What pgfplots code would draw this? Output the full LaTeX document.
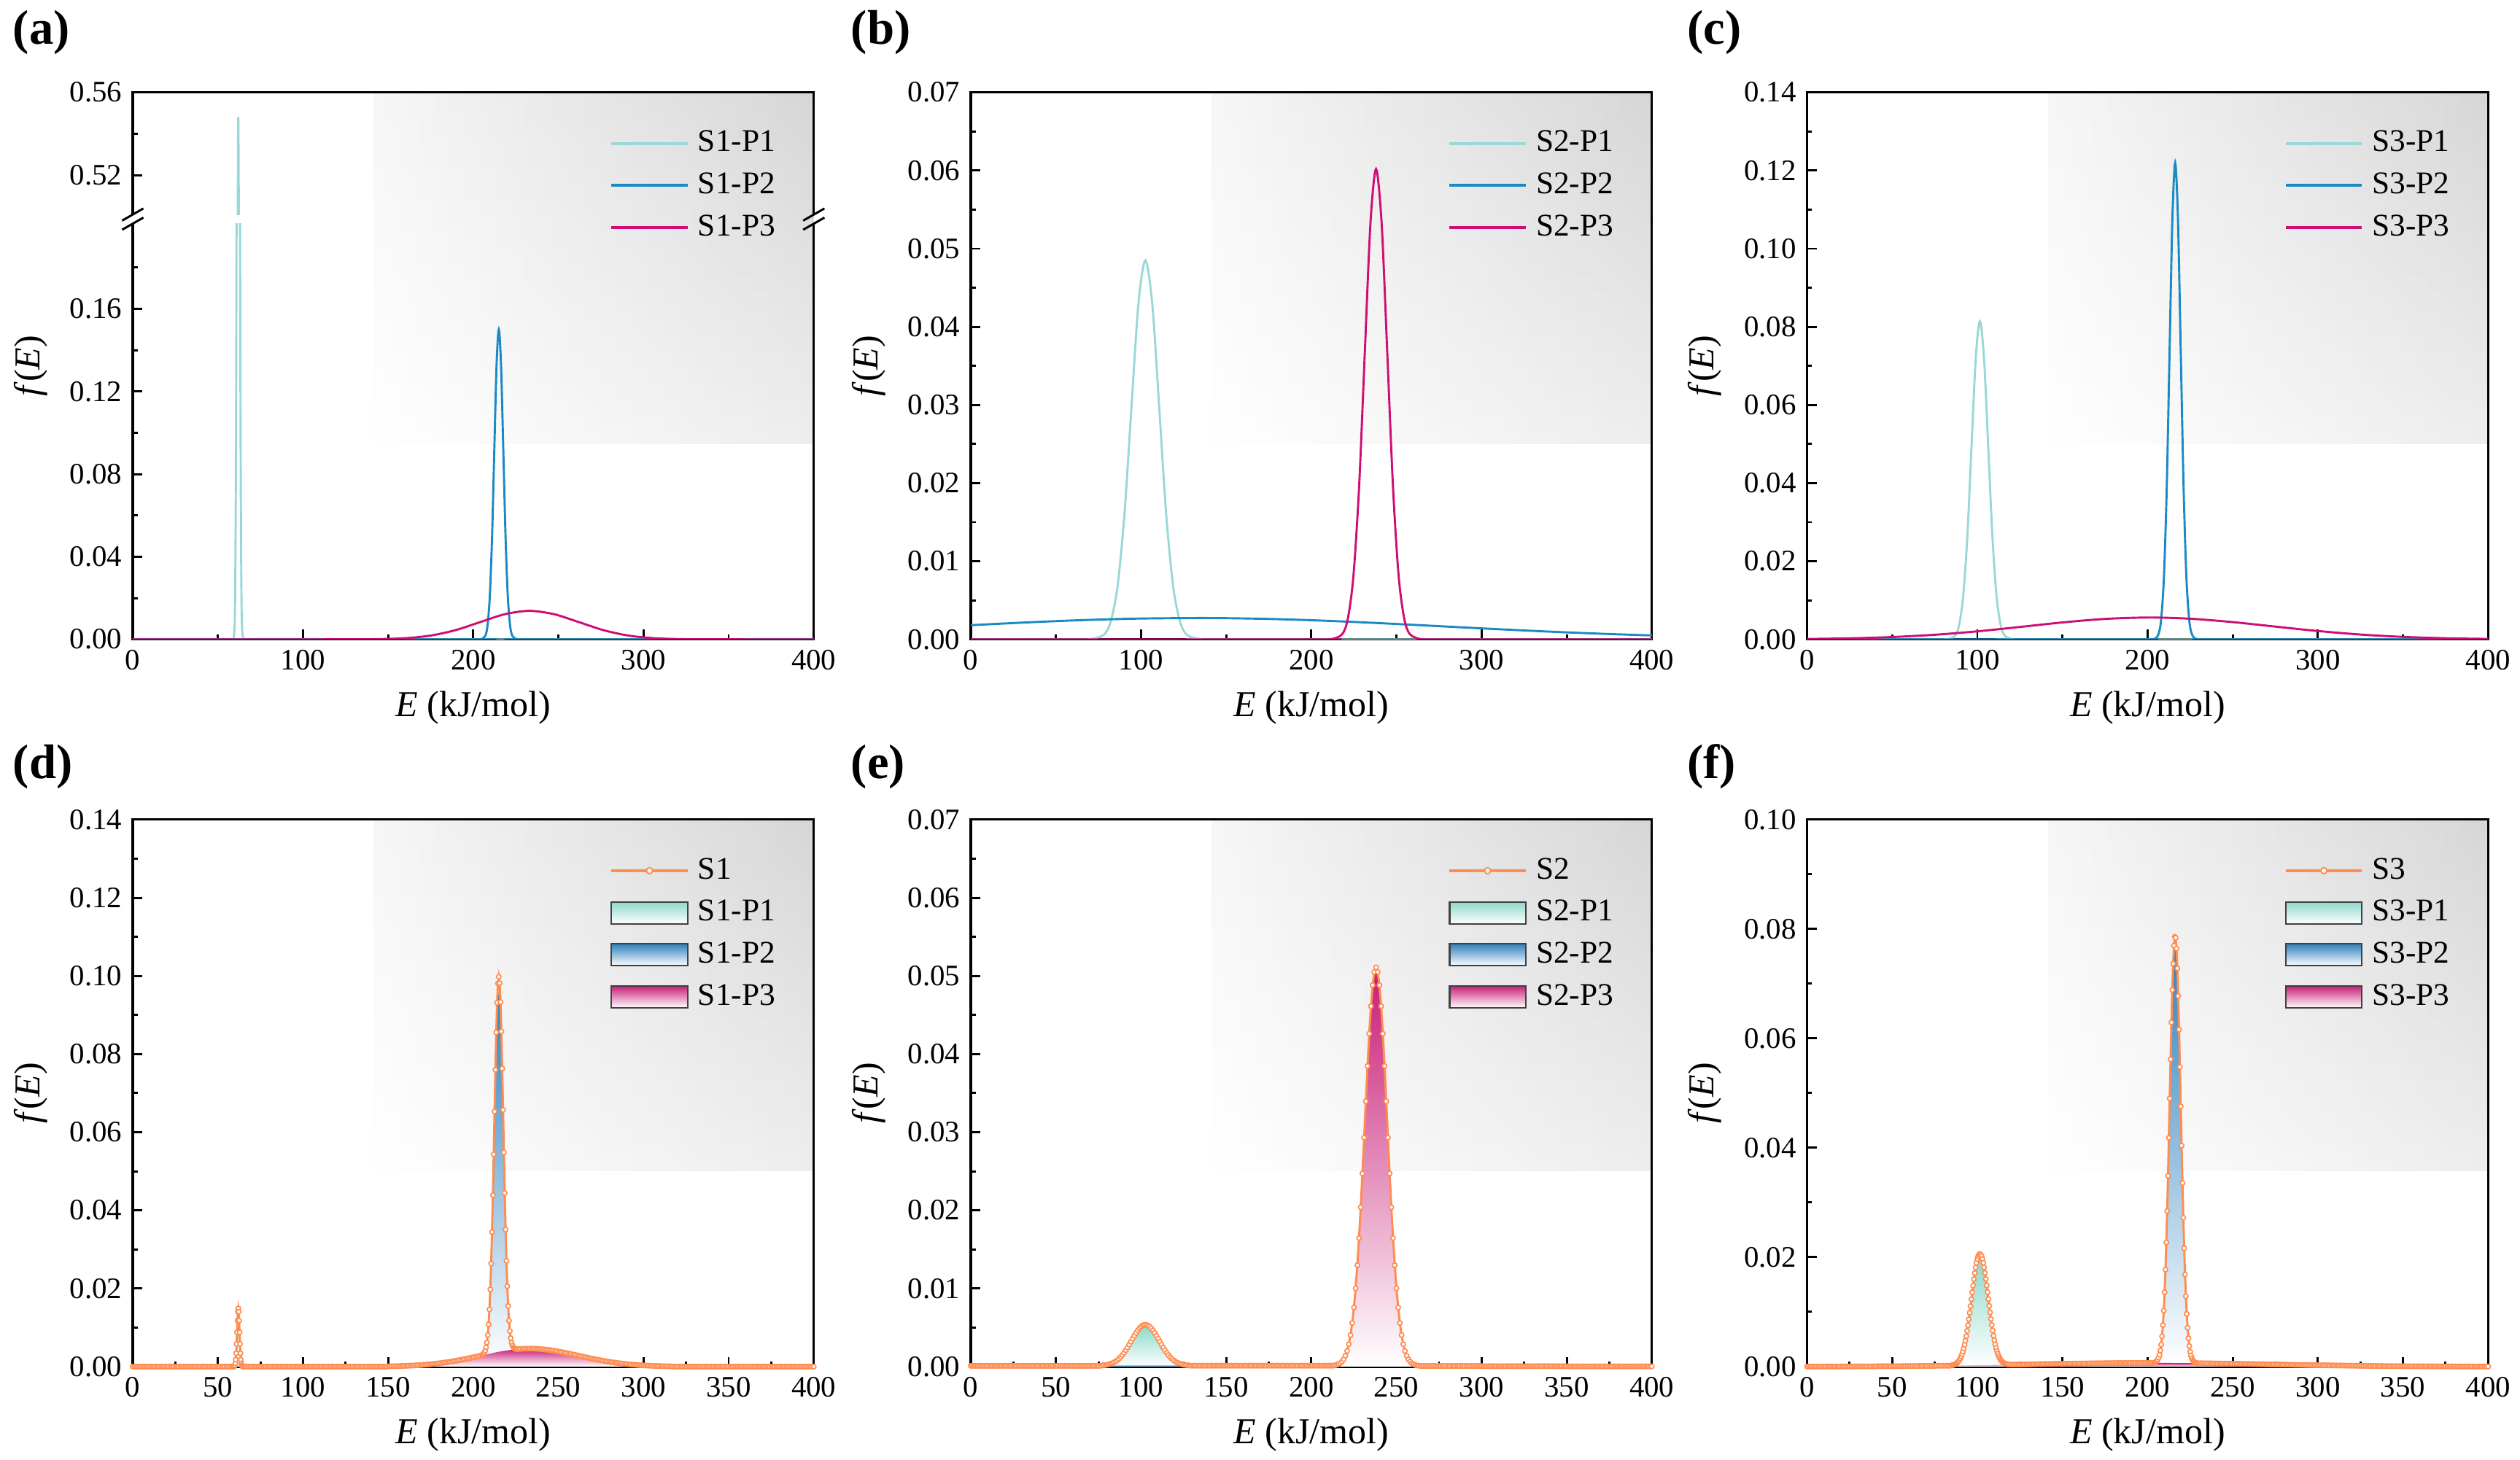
\documentclass[border=0pt]{standalone}
\usepackage{fontspec}
\setmainfont{Liberation Serif}
\usepackage{pgfplots}
\pgfplotsset{compat=1.18}
\definecolor{cPa}{RGB}{152,216,214}
\definecolor{cPb}{RGB}{26,138,196}
\definecolor{cPc}{RGB}{206,14,116}
\definecolor{cS}{RGB}{255,140,80}
\definecolor{fPa}{RGB}{140,216,204}
\definecolor{fPb}{RGB}{44,128,190}
\definecolor{fPc}{RGB}{200,28,118}
\pgfplotsset{
  panel/.style={
    scale only axis, width=224.1pt, height=180pt, anchor=south west,
    xmin=0, xmax=400, ymin=0, scaled y ticks=false, scaled x ticks=false,
    axis line style={line width=0.75pt},
    tick align=inside, xtick pos=bottom, ytick pos=left,
    major tick length=3.2pt, minor tick length=1.6pt,
    every tick/.style={black, line width=0.7pt},
    minor x tick num=1, minor y tick num=1,
    /pgf/number format/assume math mode=true,
    tick label style={font=\fontsize{9.8}{11}\selectfont},
    yticklabel style={/pgf/number format/fixed, /pgf/number format/fixed zerofill, /pgf/number format/precision=2},
    xlabel={\textit{E} (kJ/mol)}, ylabel={\textit{f}(\textit{E})},
    label style={font=\fontsize{12}{14}\selectfont},
    xlabel style={at={(axis description cs:0.5,-0.1244)}, anchor=center},
    ylabel style={at={(axis description cs:-0.150,0.5)}, anchor=center},
    legend cell align=left,
    legend style={draw=none, fill=none, inner sep=0pt, outer sep=0pt,
      at={(axis description cs:0.701,0.9411)}, anchor=north west,
      row sep=1.45pt, font=\fontsize{10.4}{12}\selectfont,
      nodes={inner sep=2pt, text depth=0.15em},
      /tikz/every odd column/.append style={column sep=1pt}},
  },
  toprow/.style={panel, xtick={0,100,200,300,400},
    legend image code/.code={\draw[##1, line width=0.9pt] (0pt,0pt) -- (25pt,0pt);}},
  botrow/.style={panel, xtick={0,50,100,150,200,250,300,350,400}},
  ln/.style={line width=0.7pt, smooth, tension=0.5},
  comp/.style={draw=none, smooth, tension=0.5, forget plot},
  Sline/.style={cS, line width=0.7pt, mark=*, mark size=0.75pt, mark options={fill=white, draw=cS, line width=0.4pt, solid}, forget plot},
}
\newcommand{\bgpanel}[2]{%
\foreach \ix in {0,...,28}{\foreach \iy in {0,...,22}{%
\pgfmathsetmacro\uu{(\ix+0.5)/29}\pgfmathsetmacro\vv{(\iy+0.5)/23}%
\pgfmathsetmacro\cc{3.5*(1-\uu)*\vv+16*\uu*\vv+7*\uu*(1-\vv)}%
\fill[black!\cc] (#1+79.3pt+\ix*4.993pt,#2+64.3pt+\iy*5.03pt) rectangle ++(5.1pt,5.13pt);}}}
\newcommand{\legS}[1]{\addlegendimage{legend image code/.code={\draw[cS, line width=0.9pt] (0pt,0pt) -- (25pt,0pt); \draw[cS, fill=white, line width=0.45pt] (12.5pt,0pt) circle (1pt);}}\addlegendentry{#1}}
\newcommand{\legF}[2]{\addlegendimage{legend image code/.code={\draw[black!75, line width=0.5pt, top color=#1, middle color=#1!40!white, bottom color=white] (0pt,-3.6pt) rectangle (25pt,3.6pt);}}\addlegendentry{#2}}
\begin{document}
\begin{tikzpicture}
\useasboundingbox (0,0) rectangle (829.2pt,480.24pt);
\bgpanel{43.68pt}{269.83pt}\bgpanel{319.44pt}{269.83pt}\bgpanel{594.6pt}{269.83pt}
\bgpanel{43.68pt}{30.5pt}\bgpanel{319.44pt}{30.5pt}\bgpanel{594.6pt}{30.5pt}
\foreach \lx/\ly/\lt in {4.08/465.6/a, 279.84/465.6/b, 555.0/465.6/c, 4.08/224.0/d, 279.84/224.0/e, 555.0/224.0/f}
  \node[anchor=base west, inner sep=0pt, font=\fontsize{16}{18}\selectfont\bfseries] at (\lx pt,\ly pt) {(\lt)};
% frame of (a) with break
\draw[line width=0.75pt] (43.68pt,406.63pt) -- (43.68pt,269.83pt) -- (267.78pt,269.83pt) -- (267.78pt,406.63pt);
\draw[line width=0.75pt] (43.68pt,409.63pt) -- (43.68pt,449.83pt) -- (267.78pt,449.83pt) -- (267.78pt,409.63pt);
\foreach \bx in {43.68,267.78}{
  \draw[line width=0.7pt] (\bx pt-3.5pt,404.63pt) -- (\bx pt+3.5pt,408.63pt);
  \draw[line width=0.7pt] (\bx pt-3.5pt,407.63pt) -- (\bx pt+3.5pt,411.63pt);}
% ---------------- (a) lower
\begin{axis}[toprow, at={(43.68pt,269.83pt)}, height=136.8pt, ymax=0.2012,
  ytick={0,0.04,0.08,0.12,0.16}, minor y tick num=0, minor ytick={0.02,0.06,0.10,0.14,0.18},
  axis line style={draw=none},
  ylabel style={at={(axis description cs:-0.150,0.6579)}},
  xlabel style={at={(axis description cs:0.5,-0.1637)}},
  legend style={at={(axis description cs:0.701,1.2383)}}]
\addplot[ln, cPa] coordinates {(0,0)(58,0)(59.09,0.0002)(59.82,0.0061)(60.18,0.0241)(60.54,0.0742)(60.91,0.1779)(61.27,0.3324)(61.64,0.4836)(62,0.548)(62.36,0.4836)(62.73,0.3324)(63.09,0.1779)(63.46,0.0742)(63.82,0.0241)(64.18,0.0061)(64.91,0.0002)(66,0)(400,0)};
\addlegendentry{S1-P1}
\addplot[ln, cPb] coordinates {(0,0)(200,0)(204.36,0.00005)(207.02,0.00167)(208.35,0.00659)(209.68,0.0203)(211.01,0.0487)(212.34,0.091)(213.67,0.1324)(215,0.15)(216.33,0.1324)(217.66,0.091)(218.99,0.0487)(220.32,0.0203)(221.65,0.00659)(222.98,0.00167)(225.64,0.00005)(230,0)(400,0)};
\addlegendentry{S1-P2}
\addplot[ln, cPc] coordinates {(0,0)(100,0)(117.4,0.000005)(131.85,0.00003)(146.3,0.000153)(160.75,0.000606)(175.2,0.00187)(189.65,0.00448)(204.1,0.00837)(218.55,0.01218)(233,0.0138)(247.45,0.01218)(261.9,0.00837)(276.35,0.00448)(290.8,0.00187)(305.25,0.000606)(319.7,0.000153)(334.15,0.00003)(348.6,0.000005)(366,0)(400,0)};
\addlegendentry{S1-P3}
\end{axis}
% ---------------- (a) upper
\begin{axis}[toprow, at={(43.68pt,409.63pt)}, height=40.2pt, ymin=0.5009, ymax=0.56,
  ytick={0.52,0.56}, minor y tick num=0, minor ytick={0.54}, xtick=\empty,
  xlabel={}, ylabel={}, axis line style={draw=none}]
\addplot[ln, cPa, forget plot] coordinates {(0,0)(58,0)(59.09,0.0002)(59.82,0.0061)(60.18,0.0241)(60.54,0.0742)(60.91,0.1779)(61.27,0.3324)(61.64,0.4836)(62,0.548)(62.36,0.4836)(62.73,0.3324)(63.09,0.1779)(63.46,0.0742)(63.82,0.0241)(64.18,0.0061)(64.91,0.0002)(66,0)(400,0)};
\end{axis}
% ---------------- (b)
\begin{axis}[toprow, at={(319.44pt,269.83pt)}, ymax=0.07, ytick={0,0.01,0.02,0.03,0.04,0.05,0.06,0.07}]
\addplot[ln, cPa] coordinates {(0,0)(60,0)(69.58,0.000016)(77.81,0.000538)(81.93,0.00213)(86.04,0.00656)(90.16,0.01575)(94.27,0.02942)(98.39,0.0428)(102.5,0.0485)(106.62,0.0428)(110.73,0.02942)(114.85,0.01575)(118.96,0.00656)(123.08,0.00213)(127.19,0.000538)(135.42,0.000016)(145,0)(400,0)};
\addlegendentry{S2-P1}
\addplot[ln, cPb] coordinates {(0,0.001814)(25,0.002087)(50,0.002332)(75,0.00253)(100,0.002665)(132,0.00273)(150,0.002709)(175,0.002614)(200,0.002449)(225,0.002229)(250,0.001969)(275,0.00169)(300,0.001408)(325,0.00114)(350,0.000895)(375,0.000683)(400,0.000506)};
\addlegendentry{S2-P2}
\addplot[ln, cPc] coordinates {(0,0)(200,0)(211.48,0.00002)(218.11,0.000668)(221.43,0.00264)(224.74,0.00815)(228.06,0.01955)(231.37,0.03651)(234.69,0.05313)(238,0.0602)(241.32,0.05313)(244.63,0.03651)(247.95,0.01955)(251.26,0.00815)(254.58,0.00264)(257.89,0.000668)(264.52,0.00002)(275,0)(400,0)};
\addlegendentry{S2-P3}
\end{axis}
% ---------------- (c)
\begin{axis}[toprow, at={(594.6pt,269.83pt)}, ymax=0.14, ytick={0,0.02,0.04,0.06,0.08,0.10,0.12,0.14}]
\addplot[ln, cPa] coordinates {(0,0)(70,0)(81.9,0.000027)(86.8,0.000904)(89.25,0.00357)(91.7,0.01101)(94.15,0.02643)(96.6,0.04937)(99.05,0.07184)(101.5,0.0814)(103.95,0.07184)(106.4,0.04937)(108.85,0.02643)(111.3,0.01101)(113.75,0.00357)(116.2,0.000904)(121.1,0.000027)(130,0)(400,0)};
\addlegendentry{S3-P1}
\addplot[ln, cPb] coordinates {(0,0)(190,0)(203.12,0.000041)(206.39,0.001354)(208.03,0.005356)(209.66,0.01651)(211.3,0.03961)(212.93,0.07399)(214.57,0.10767)(216.2,0.122)(217.84,0.10767)(219.47,0.07399)(221.11,0.03961)(222.74,0.01651)(224.38,0.005356)(226.01,0.001354)(229.28,0.000041)(240,0)(400,0)};
\addlegendentry{S3-P2}
\addplot[ln, cPc] coordinates {(0,0.000106)(25,0.000268)(50,0.000598)(75,0.001178)(100,0.002054)(125,0.003172)(150,0.004331)(175,0.005232)(201,0.00559)(225,0.005283)(250,0.004417)(275,0.003267)(300,0.002138)(325,0.001237)(350,0.000634)(375,0.000287)(400,0.000115)};
\addlegendentry{S3-P3}
\end{axis}
% ---------------- (d)
\begin{axis}[botrow, at={(43.68pt,30.5pt)}, ymax=0.14, ytick={0,0.02,0.04,0.06,0.08,0.10,0.12,0.14}]
\addplot[comp, top color=fPa, middle color=fPa!40!white, bottom color=white] coordinates {(58,0)(59.09,0.000005)(59.82,0.000165)(60.18,0.000654)(60.54,0.002016)(60.91,0.004838)(61.27,0.009037)(61.64,0.01315)(62,0.0149)(62.36,0.01315)(62.73,0.009037)(63.09,0.004838)(63.46,0.002016)(63.82,0.000654)(64.18,0.000165)(64.91,0.000005)(66,0)} \closedcycle;
\addplot[comp, top color=fPb, middle color=fPb!40!white, bottom color=white] coordinates {(200,0)(204.36,0.000032)(207.02,0.001066)(208.35,0.004214)(209.68,0.01299)(211.01,0.03117)(212.34,0.05822)(213.67,0.08472)(215,0.096)(216.33,0.08472)(217.66,0.05822)(218.99,0.03117)(220.32,0.01299)(221.65,0.004214)(222.98,0.001066)(225.64,0.000032)(230,0)} \closedcycle;
\addplot[comp, top color=fPc, middle color=fPc!40!white, bottom color=white] coordinates {(100,0)(117.4,0.0000015)(131.85,0.00001)(146.3,0.000051)(160.75,0.000202)(175.2,0.000622)(189.65,0.001494)(204.1,0.00279)(218.55,0.00406)(233,0.0046)(247.45,0.00406)(261.9,0.00279)(276.35,0.001494)(290.8,0.000622)(305.25,0.000202)(319.7,0.000051)(334.15,0.00001)(348.6,0.0000015)(366,0)} \closedcycle;
\addplot[Sline] coordinates {(0,0)(1,0)(2,0)(3,0)(4,0)(5,0)(6,0)(7,0)(8,0)(9,0)(10,0)(11,0)(12,0)(13,0)(14,0)(15,0)(16,0)(17,0)(18,0)(19,0)(20,0)(21,0)(22,0)(23,0)(24,0)(25,0)(26,0)(27,0)(28,0)(29,0)(30,0)(31,0)(32,0)(33,0)(34,0)(35,0)(36,0)(37,0)(38,0)(39,0)(40,0)(41,0)(42,0)(43,0)(44,0)(45,0)(46,0)(47,0)(48,0)(49,0)(50,0)(51,0)(52,0)(53,0)(54,0)(55,0)(56,0)(57,0)
(58,0)(58.5,0)(59,0)(59.25,0.000012)(59.5,0.00004)(59.75,0.000126)(60,0.000343)(60.25,0.00083)(60.5,0.00179)(60.75,0.00341)(61,0.0058)(61.25,0.00876)(61.5,0.01177)(61.75,0.01405)(62,0.0149)(62.25,0.01405)(62.5,0.01177)(62.75,0.00876)(63,0.0058)(63.25,0.00341)(63.5,0.00179)(63.75,0.00083)(64,0.000343)(64.25,0.000126)(64.5,0.00004)(64.75,0.000012)(65,0)(65.5,0)
(66,0)(67,0)(68,0)(69,0)(70,0)(71,0)(72,0)(73,0)(74,0)(75,0)(76,0)(77,0)(78,0)(79,0)(80,0)(81,0)(82,0)(83,0)(84,0)(85,0)(86,0)(87,0)(88,0)(89,0)(90,0)(91,0)(92,0)(93,0)(94,0)(95,0)(96,0)(97,0)(98,0)(99,0)(100,0)(101,0)(102,0)(103,0)(104,0)(105,0)(106,0)(107,0)(108,0)(109,0)(110,0)(111,0)(112,0)(113,0)(114,0)(115,0)(116,0)(117,0)(118,0)(119,0)(120,0)(121,0)(122,0)(123,0)(124,0)(125,0)(126,0)(127,0)(128,0)(129,0)(130,0)(131,0)(132,0)(133,0)(134,0)(135,0)(136,0)(137,0)(138,0)(139,0)(140,0)(141,0)(142,0)(143,0)(144,0)(145,0)(146,0)(147,0)(148,0)(149,0)
(150,0.000075)(151,0.00008)(152,0.00009)(153,0.0001)(154,0.00011)(155,0.00012)(156,0.00013)(157,0.000145)(158,0.00016)(159,0.000175)
(160,0.000189)(161,0.000207)(162,0.000225)(163,0.000245)(164,0.000266)(165,0.000289)(166,0.000313)(167,0.00034)(168,0.000367)(169,0.000397)(170,0.000427)(171,0.000461)(172,0.000496)(173,0.000534)(174,0.000573)(175,0.000615)(176,0.000658)(177,0.000705)(178,0.000752)(179,0.000804)(180,0.000856)(181,0.000912)(182,0.000969)(183,0.001031)(184,0.001093)(185,0.001159)(186,0.001226)(187,0.001297)(188,0.001369)(189,0.001445)(190,0.001521)(191,0.001601)(192,0.001682)(193,0.001766)(194,0.001851)(195,0.001939)(196,0.002027)(197,0.002118)(198,0.002209)(199,0.002303)(200,0.002397)(201,0.002492)(202,0.002588)(203,0.002684)(204,0.0028)
(205,0.00296)(205.5,0.00309)(206,0.00328)(206.5,0.0036)(207,0.00411)(207.5,0.00492)(208,0.00617)(208.5,0.00806)(209,0.0108)(209.5,0.01463)(210,0.01976)(210.5,0.02635)(211,0.03443)(211.5,0.04388)(212,0.05435)(212.5,0.06531)(213,0.07598)(213.5,0.08555)(214,0.09316)(214.5,0.09807)(215,0.09979)(215.5,0.09815)(216,0.09332)(216.5,0.0858)(217,0.07631)(217.5,0.06571)(218,0.05484)(218.5,0.04445)(219,0.03508)(219.5,0.02707)(220,0.02057)(220.5,0.01551)(221,0.01176)(221.5,0.0091)(222,0.00729)(222.5,0.0061)(223,0.00537)(223.5,0.00494)(224,0.00469)(224.5,0.00456)(225,0.00451)(225.5,0.00449)(226,0.00449)
(227,0.004499)(228,0.004531)(229,0.004553)(230,0.004575)(231,0.004586)(232,0.004597)(233,0.0046)(234,0.004597)(235,0.004586)(236,0.004575)(237,0.004553)(238,0.004531)(239,0.004499)(240,0.004467)(241,0.004425)(242,0.004382)(243,0.00433)(244,0.004278)(245,0.004218)(246,0.004157)(247,0.004089)(248,0.00402)(249,0.003945)(250,0.003869)(251,0.003788)(252,0.003706)(253,0.00362)(254,0.003533)(255,0.003443)(256,0.003352)(257,0.003258)(258,0.003164)(259,0.003069)(260,0.002973)(261,0.002877)(262,0.00278)(263,0.002684)(264,0.002588)(265,0.002492)(266,0.002397)(267,0.002303)(268,0.002209)(269,0.002118)(270,0.002027)(271,0.001939)(272,0.001851)(273,0.001766)(274,0.001682)(275,0.001601)(276,0.001521)(277,0.001445)(278,0.001369)(279,0.001297)(280,0.001226)(281,0.001159)(282,0.001093)(283,0.001031)(284,0.000969)(285,0.000912)(286,0.000856)(287,0.000804)(288,0.000752)(289,0.000705)(290,0.000658)(291,0.000615)(292,0.000573)(293,0.000534)(294,0.000496)(295,0.000461)(296,0.000427)(297,0.000397)(298,0.000367)(299,0.00034)(300,0.000313)(301,0.000289)(302,0.000266)(303,0.000245)(304,0.000225)(305,0.000207)(306,0.000189)(307,0.000175)(308,0.00016)(309,0.000145)(310,0.00013)(311,0.00012)(312,0.00011)(313,0.0001)(314,0.00009)(315,0.00008)(316,0.000075)
(317,0)(318,0)(319,0)(320,0)(321,0)(322,0)(323,0)(324,0)(325,0)(326,0)(327,0)(328,0)(329,0)(330,0)(331,0)(332,0)(333,0)(334,0)(335,0)(336,0)(337,0)(338,0)(339,0)(340,0)(341,0)(342,0)(343,0)(344,0)(345,0)(346,0)(347,0)(348,0)(349,0)(350,0)(351,0)(352,0)(353,0)(354,0)(355,0)(356,0)(357,0)(358,0)(359,0)(360,0)(361,0)(362,0)(363,0)(364,0)(365,0)(366,0)(367,0)(368,0)(369,0)(370,0)(371,0)(372,0)(373,0)(374,0)(375,0)(376,0)(377,0)(378,0)(379,0)(380,0)(381,0)(382,0)(383,0)(384,0)(385,0)(386,0)(387,0)(388,0)(389,0)(390,0)(391,0)(392,0)(393,0)(394,0)(395,0)(396,0)(397,0)(398,0)(399,0)(400,0)};
\legS{S1}\legF{fPa}{S1-P1}\legF{fPb}{S1-P2}\legF{fPc}{S1-P3}
\end{axis}
% ---------------- (e)
\begin{axis}[botrow, at={(319.44pt,30.5pt)}, ymax=0.07, ytick={0,0.01,0.02,0.03,0.04,0.05,0.06,0.07}]
\addplot[comp, top color=fPa, middle color=fPa!40!white, bottom color=white] coordinates {(60,0)(69.58,0.000002)(77.81,0.000058)(81.93,0.00023)(86.04,0.000709)(90.16,0.001701)(94.27,0.003177)(98.39,0.004623)(102.5,0.005238)(106.62,0.004623)(110.73,0.003177)(114.85,0.001701)(118.96,0.000709)(123.08,0.00023)(127.19,0.000058)(135.42,0.000002)(145,0)} \closedcycle;
\addplot[comp, top color=fPb, middle color=fPb!40!white, bottom color=white] coordinates {(0,0.000082)(50,0.000105)(100,0.00012)(150,0.000122)(200,0.00011)(250,0.000089)(300,0.000063)(350,0.00004)(400,0.000023)} \closedcycle;
\addplot[comp, top color=fPc, middle color=fPc!40!white, bottom color=white] coordinates {(200,0)(211.48,0.000017)(218.11,0.000566)(221.43,0.002238)(224.74,0.006899)(228.06,0.016556)(231.37,0.030925)(234.69,0.044999)(238,0.05099)(241.32,0.044999)(244.63,0.030925)(247.95,0.016556)(251.26,0.006899)(254.58,0.002238)(257.89,0.000566)(264.52,0.000017)(275,0)} \closedcycle;
\addplot[Sline] coordinates {(0,0.0001)(1,0.0001)(2,0.0001)(3,0.0001)(4,0.0001)(5,0.0001)(6,0.0001)(7,0.0001)(8,0.0001)(9,0.0001)(10,0.0001)(11,0.0001)(12,0.0001)(13,0.0001)(14,0.0001)(15,0.0001)(16,0.0001)(17,0.0001)(18,0.0001)(19,0.0001)(20,0.0001)(21,0.0001)(22,0.0001)(23,0.0001)(24,0.0001)(25,0.0001)(26,0.0001)(27,0.0001)(28,0.0001)(29,0.0001)(30,0.0001)(31,0.0001)(32,0.0001)(33,0.0001)(34,0.0001)(35,0.0001)(36,0.0001)(37,0.0001)(38,0.0001)(39,0.0001)(40,0.0001)(41,0.0001)(42,0.0001)(43,0.0001)(44,0.0001)(45,0.0001)(46,0.0001)(47,0.0001)(48,0.0001)(49,0.0001)(50,0.0001)(51,0.0001)(52,0.0001)(53,0.0001)(54,0.0001)(55,0.0001)(56,0.0001)(57,0.0001)(58,0.0001)(59,0.0001)(60,0.0001)(61,0.0001)(62,0.0001)(63,0.0001)(64,0.0001)(65,0.0001)(66,0.0001)(67,0.0001)(68,0.0001)(69,0.0001)(70,0.0001)(71,0.0001)(72,0.0001)(73,0.0001)(74,0.0001)(75,0.0001)(76,0.0001)
(77,0.000157)(78,0.000176)(79,0.000203)(80,0.000239)(81,0.000288)(82,0.000351)(83,0.000431)(84,0.000535)(85,0.000662)(86,0.000818)(87,0.001006)(88,0.001226)(89,0.001481)(90,0.00177)(91,0.002091)(92,0.002439)(93,0.002809)(94,0.003191)(95,0.003577)(96,0.003954)(97,0.004309)(98,0.00463)(99,0.004905)(100,0.005122)(101,0.005272)(102,0.005348)(103,0.005348)(104,0.005272)(105,0.005122)(106,0.004905)(107,0.00463)(108,0.004309)(109,0.003954)(110,0.003577)(111,0.003192)(112,0.002811)(113,0.002441)(114,0.002094)(115,0.001774)(116,0.001485)(117,0.00123)(118,0.00101)(119,0.000823)(120,0.000667)(121,0.00054)(122,0.000437)(123,0.000357)(124,0.000294)(125,0.000246)(126,0.00021)(127,0.000183)(128,0.000164)
(129,0.00012)(130,0.00012)(131,0.00012)(132,0.00012)(133,0.00012)(134,0.00012)(135,0.00012)(136,0.00012)(137,0.00012)(138,0.00012)(139,0.00012)(140,0.00012)(141,0.00012)(142,0.00012)(143,0.00012)(144,0.00012)(145,0.00012)(146,0.00012)(147,0.00012)(148,0.00012)(149,0.00012)(150,0.00012)(151,0.00012)(152,0.00012)(153,0.00012)(154,0.00012)(155,0.00012)(156,0.00012)(157,0.00012)(158,0.00012)(159,0.00012)(160,0.00012)(161,0.00012)(162,0.00012)(163,0.00012)(164,0.00012)(165,0.00012)(166,0.00012)(167,0.00012)(168,0.00012)(169,0.00012)(170,0.00012)(171,0.00012)(172,0.00012)(173,0.00012)(174,0.00012)(175,0.00012)(176,0.00012)(177,0.00012)(178,0.00012)(179,0.00012)(180,0.00012)(181,0.00012)(182,0.00012)(183,0.00012)(184,0.00012)(185,0.00012)(186,0.00012)(187,0.00012)(188,0.00012)(189,0.00012)(190,0.00012)(191,0.00012)(192,0.00012)(193,0.00012)(194,0.00012)(195,0.00012)(196,0.00012)(197,0.00012)(198,0.00012)(199,0.00012)(200,0.00012)(201,0.00012)(202,0.00012)(203,0.00012)(204,0.00012)(205,0.00012)(206,0.00012)(207,0.00012)(208,0.00012)(209,0.00012)(210,0.00012)(211,0.00012)(212,0.00012)(213,0.00012)
(214,0.00018)(215,0.00023)(216,0.00032)(217,0.00045)(218,0.00065)(219,0.00094)(220,0.00138)(221,0.002)(222,0.00287)(223,0.00404)(224,0.00559)(225,0.00756)(226,0.01001)(227,0.01298)(228,0.01645)(229,0.02039)(230,0.02472)(231,0.0293)(232,0.03396)(233,0.03847)(234,0.04261)(235,0.04613)(236,0.04882)(237,0.05051)(238,0.05109)(239,0.05051)(240,0.04882)(241,0.04613)(242,0.04261)(243,0.03847)(244,0.03396)(245,0.0293)(246,0.02472)(247,0.02039)(248,0.01645)(249,0.01298)(250,0.01001)(251,0.00756)(252,0.00559)(253,0.00404)(254,0.00287)(255,0.002)(256,0.00138)(257,0.00094)(258,0.00064)(259,0.00043)(260,0.0003)(261,0.0002)(262,0.00015)(263,0.00012)
(264,0.00008)(265,0.00008)(266,0.00008)(267,0.00008)(268,0.00008)(269,0.00008)(270,0.00008)(271,0.00008)(272,0.00008)(273,0.00008)(274,0.00008)(275,0.00008)(276,0.00008)(277,0.00008)(278,0.00008)(279,0.00008)(280,0.00008)(281,0.00008)(282,0.00008)(283,0.00008)(284,0.00008)(285,0.00008)(286,0.00008)(287,0.00008)(288,0.00008)(289,0.00008)(290,0.00008)(291,0.00008)(292,0.00008)(293,0.00008)(294,0.00008)(295,0.00008)(296,0.00008)(297,0.00008)(298,0.00008)(299,0.00008)(300,0.00008)
(301,0.00005)(302,0.00005)(303,0.00005)(304,0.00005)(305,0.00005)(306,0.00005)(307,0.00005)(308,0.00005)(309,0.00005)(310,0.00005)(311,0.00005)(312,0.00005)(313,0.00005)(314,0.00005)(315,0.00005)(316,0.00005)(317,0.00005)(318,0.00005)(319,0.00005)(320,0.00005)(321,0.00005)(322,0.00005)(323,0.00005)(324,0.00005)(325,0.00005)(326,0.00005)(327,0.00005)(328,0.00005)(329,0.00005)(330,0.00005)(331,0.00005)(332,0.00005)(333,0.00005)(334,0.00005)(335,0.00005)(336,0.00005)(337,0.00005)(338,0.00005)(339,0.00005)(340,0.00005)(341,0.00005)(342,0.00005)(343,0.00005)(344,0.00005)(345,0.00005)(346,0.00005)(347,0.00005)(348,0.00005)(349,0.00005)(350,0.00005)
(351,0.00003)(352,0.00003)(353,0.00003)(354,0.00003)(355,0.00003)(356,0.00003)(357,0.00003)(358,0.00003)(359,0.00003)(360,0.00003)(361,0.00003)(362,0.00003)(363,0.00003)(364,0.00003)(365,0.00003)(366,0.00003)(367,0.00003)(368,0.00003)(369,0.00003)(370,0.00003)(371,0.00003)(372,0.00003)(373,0.00003)(374,0.00003)(375,0.00003)(376,0.00003)(377,0.00003)(378,0.00003)(379,0.00003)(380,0.00003)(381,0.00003)(382,0.00003)(383,0.00003)(384,0.00003)(385,0.00003)(386,0.00003)(387,0.00003)(388,0.00003)(389,0.00003)(390,0.00003)(391,0.00003)(392,0.00003)(393,0.00003)(394,0.00003)(395,0.00003)(396,0.00003)(397,0.00003)(398,0.00003)(399,0.00003)(400,0.00003)};
\legS{S2}\legF{fPa}{S2-P1}\legF{fPb}{S2-P2}\legF{fPc}{S2-P3}
\end{axis}
% ---------------- (f)
\begin{axis}[botrow, at={(594.6pt,30.5pt)}, ymax=0.10, ytick={0,0.02,0.04,0.06,0.08,0.10}]
\addplot[comp, top color=fPa, middle color=fPa!40!white, bottom color=white] coordinates {(70,0)(81.9,0.000007)(86.8,0.000226)(89.25,0.000893)(91.7,0.002753)(94.15,0.006608)(96.6,0.012342)(99.05,0.017959)(101.5,0.02035)(103.95,0.017959)(106.4,0.012342)(108.85,0.006608)(111.3,0.002753)(113.75,0.000893)(116.2,0.000226)(121.1,0.000007)(130,0)} \closedcycle;
\addplot[comp, top color=fPb, middle color=fPb!40!white, bottom color=white] coordinates {(190,0)(203.12,0.000026)(206.39,0.000867)(208.03,0.003428)(209.66,0.010564)(211.3,0.025353)(212.93,0.047356)(214.57,0.068906)(216.2,0.07808)(217.84,0.068906)(219.47,0.047356)(221.11,0.025353)(222.74,0.010564)(224.38,0.003428)(226.01,0.000867)(229.28,0.000026)(240,0)} \closedcycle;
\addplot[comp, top color=fPc, middle color=fPc!40!white, bottom color=white] coordinates {(0,0.000013)(25,0.000032)(50,0.000072)(75,0.000141)(100,0.000246)(125,0.000381)(150,0.00052)(175,0.000628)(201,0.000671)(225,0.000634)(250,0.00053)(275,0.000392)(300,0.000257)(325,0.000148)(350,0.000076)(375,0.000034)(400,0.000014)} \closedcycle;
\addplot[Sline] coordinates {(0,0.00002)(1,0.00002)(2,0.00002)(3,0.00002)(4,0.00002)(5,0.00002)(6,0.00002)(7,0.00002)(8,0.00002)(9,0.00002)(10,0.00002)(11,0.00002)(12,0.00002)(13,0.00002)(14,0.00002)(15,0.00002)(16,0.00002)(17,0.00002)(18,0.00002)(19,0.00002)(20,0.00002)
(21,0.00004)(22,0.00004)(23,0.00004)(24,0.00004)(25,0.00004)(26,0.00004)(27,0.00004)(28,0.00004)(29,0.00004)(30,0.00004)(31,0.00004)(32,0.00004)(33,0.00004)(34,0.00004)(35,0.00004)(36,0.00004)(37,0.00004)(38,0.00004)(39,0.00004)(40,0.00004)
(41,0.00007)(42,0.00007)(43,0.00007)(44,0.00007)(45,0.00007)(46,0.00007)(47,0.00007)(48,0.00007)(49,0.00007)(50,0.00007)(51,0.00007)(52,0.00007)(53,0.00007)(54,0.00007)(55,0.00007)
(56,0.0001)(57,0.0001)(58,0.0001)(59,0.0001)(60,0.0001)(61,0.0001)(62,0.0001)(63,0.0001)(64,0.0001)(65,0.0001)
(66,0.00013)(67,0.00013)(68,0.00013)(69,0.00013)(70,0.00013)(71,0.00013)(72,0.00013)(73,0.00013)(74,0.00013)(75,0.00013)
(76,0.00016)(77,0.00016)(78,0.00016)(79,0.00016)(80,0.00016)(81,0.00016)(82,0.00016)(83,0.00016)(84,0.00016)(85,0.00024)(85.5,0.00028)
(86,0.00032)(86.5,0.00037)(87,0.00044)(87.5,0.00053)(88,0.00065)(88.5,0.00079)(89,0.00098)(89.5,0.00121)(90,0.0015)(90.5,0.00184)(91,0.00225)(91.5,0.00274)(92,0.00332)(92.5,0.00398)(93,0.00473)(93.5,0.00558)(94,0.00652)(94.5,0.00755)(95,0.00866)(95.5,0.00984)(96,0.01106)(96.5,0.01232)(97,0.01358)(97.5,0.01481)(98,0.016)(98.5,0.01711)(99,0.01811)(99.5,0.01896)(100,0.01967)(100.5,0.02018)(101,0.02049)(101.5,0.0206)(102,0.02049)(102.5,0.02019)(103,0.01968)(103.5,0.01898)(104,0.01813)(104.5,0.01714)(105,0.01604)(105.5,0.01485)(106,0.01362)(106.5,0.01237)(107,0.01112)(107.5,0.0099)(108,0.00872)(108.5,0.00762)(109,0.0066)(109.5,0.00566)(110,0.00482)(110.5,0.00407)(111,0.00341)(111.5,0.00284)(112,0.00236)(112.5,0.00195)(113,0.00161)(113.5,0.00132)(114,0.00111)(114.5,0.00092)(115,0.00079)(115.5,0.00067)(116,0.00059)(116.5,0.00052)(117,0.00048)(117.5,0.00044)(118,0.00042)(119,0.00039)(120,0.00038)
(121,0.00036)(122,0.00037)(123,0.00037)(124,0.00038)(125,0.00038)(126,0.00039)(127,0.00039)(128,0.0004)(129,0.00041)(130,0.00041)(131,0.00042)(132,0.00042)(133,0.00043)(134,0.00043)(135,0.00044)(136,0.00045)(137,0.00045)(138,0.00046)(139,0.00046)(140,0.00047)(141,0.00047)(142,0.00048)(143,0.00048)(144,0.00049)(145,0.00049)(146,0.0005)(147,0.0005)(148,0.00051)(149,0.00051)(150,0.00052)(151,0.00052)(152,0.00053)(153,0.00053)(154,0.00054)(155,0.00054)(156,0.00055)(157,0.00055)(158,0.00055)(159,0.00056)(160,0.00056)(161,0.00057)(162,0.00057)(163,0.00058)(164,0.00058)(165,0.00059)(166,0.00059)(167,0.00059)(168,0.0006)(169,0.0006)(170,0.00061)(171,0.00061)(172,0.00061)(173,0.00062)(174,0.00062)(175,0.00063)(176,0.00063)(177,0.00063)(178,0.00064)(179,0.00064)(180,0.00064)(181,0.00064)(182,0.00065)(183,0.00065)(184,0.00065)(185,0.00065)(186,0.00066)(187,0.00066)(188,0.00066)(189,0.00066)(190,0.00066)(191,0.00067)(192,0.00067)(193,0.00067)(194,0.00067)(195,0.00067)(196,0.00067)(197,0.00067)(198,0.00067)(199,0.00067)(200,0.00067)(201,0.00067)(202,0.00067)(203,0.00069)
(204,0.00074)(204.5,0.0008)(205,0.00089)(205.5,0.00104)(206,0.00127)(206.5,0.00163)(207,0.00216)(207.5,0.00294)(208,0.00403)(208.5,0.00554)(209,0.00758)(209.5,0.01023)(210,0.0136)(210.5,0.01775)(211,0.02271)(211.5,0.02845)(212,0.03488)(212.5,0.04183)(213,0.04903)(213.5,0.05619)(214,0.06293)(214.5,0.06887)(215,0.07366)(215.5,0.07697)(216,0.07859)(216.5,0.07841)(217,0.07644)(217.5,0.07281)(218,0.06776)(218.5,0.06163)(219,0.05478)(219.5,0.04758)(220,0.04041)(220.5,0.03355)(221,0.02724)(221.5,0.02164)(222,0.01684)(222.5,0.01286)(223,0.00964)(223.5,0.00711)(224,0.00519)(224.5,0.00377)(225,0.00272)(225.5,0.002)(226,0.00151)(226.5,0.00118)(227,0.00096)(227.5,0.00083)(228,0.00075)(228.5,0.0007)
(229,0.00062)(230,0.00062)(231,0.00062)(232,0.00061)(233,0.00061)(234,0.0006)(235,0.0006)(236,0.0006)(237,0.00059)(238,0.00059)(239,0.00058)(240,0.00058)(241,0.00057)(242,0.00057)(243,0.00056)(244,0.00056)(245,0.00055)(246,0.00055)(247,0.00054)(248,0.00054)(249,0.00053)(250,0.00053)(251,0.00052)(252,0.00052)(253,0.00051)(254,0.00051)(255,0.0005)(256,0.0005)(257,0.00049)(258,0.00049)(259,0.00048)(260,0.00047)(261,0.00047)(262,0.00046)(263,0.00046)(264,0.00045)(265,0.00045)(266,0.00044)(267,0.00043)(268,0.00043)(269,0.00042)(270,0.00042)(271,0.00041)(272,0.0004)(273,0.0004)(274,0.00039)(275,0.00039)(276,0.00039)(277,0.00038)(278,0.00038)(279,0.00037)(280,0.00036)(281,0.00036)(282,0.00035)(283,0.00035)(284,0.00034)(285,0.00034)(286,0.00033)(287,0.00032)(288,0.00032)(289,0.00031)(290,0.00031)(291,0.0003)(292,0.0003)(293,0.00029)(294,0.00029)(295,0.00028)(296,0.00027)(297,0.00027)(298,0.00026)(299,0.00026)(300,0.00026)
(301,0.00025)(302,0.00025)(303,0.00024)(304,0.00024)(305,0.00024)(306,0.00023)(307,0.00023)(308,0.00022)(309,0.00022)(310,0.00021)(311,0.00021)(312,0.0002)(313,0.0002)(314,0.0002)(315,0.00019)(316,0.00019)(317,0.00018)(318,0.00018)(319,0.00017)(320,0.00017)(321,0.00017)(322,0.00016)(323,0.00016)(324,0.00015)(325,0.00015)(326,0.00014)(327,0.00014)(328,0.00013)(329,0.00013)(330,0.00013)(331,0.00012)(332,0.00012)(333,0.00011)(334,0.00011)(335,0.00011)(336,0.0001)(337,0.0001)(338,0.0001)(339,0.00009)(340,0.00009)(341,0.00009)(342,0.00009)(343,0.00008)(344,0.00008)(345,0.00008)(346,0.00008)(347,0.00008)(348,0.00008)(349,0.00008)(350,0.00008)
(351,0.00006)(352,0.00006)(353,0.00006)(354,0.00006)(355,0.00006)(356,0.00006)(357,0.00006)(358,0.00006)(359,0.00006)(360,0.00006)(361,0.00005)(362,0.00005)(363,0.00005)(364,0.00005)(365,0.00005)(366,0.00005)(367,0.00005)(368,0.00005)(369,0.00005)(370,0.00005)(371,0.00004)(372,0.00004)(373,0.00004)(374,0.00004)(375,0.00004)(376,0.00004)(377,0.00004)(378,0.00004)(379,0.00004)(380,0.00004)(381,0.00003)(382,0.00003)(383,0.00003)(384,0.00003)(385,0.00003)(386,0.00003)(387,0.00003)(388,0.00003)(389,0.00003)(390,0.00003)(391,0.00002)(392,0.00002)(393,0.00002)(394,0.00002)(395,0.00002)(396,0.00002)(397,0.00002)(398,0.00002)(399,0.00002)(400,0.00002)};
\legS{S3}\legF{fPa}{S3-P1}\legF{fPb}{S3-P2}\legF{fPc}{S3-P3}
\end{axis}
\end{tikzpicture}
\end{document}
